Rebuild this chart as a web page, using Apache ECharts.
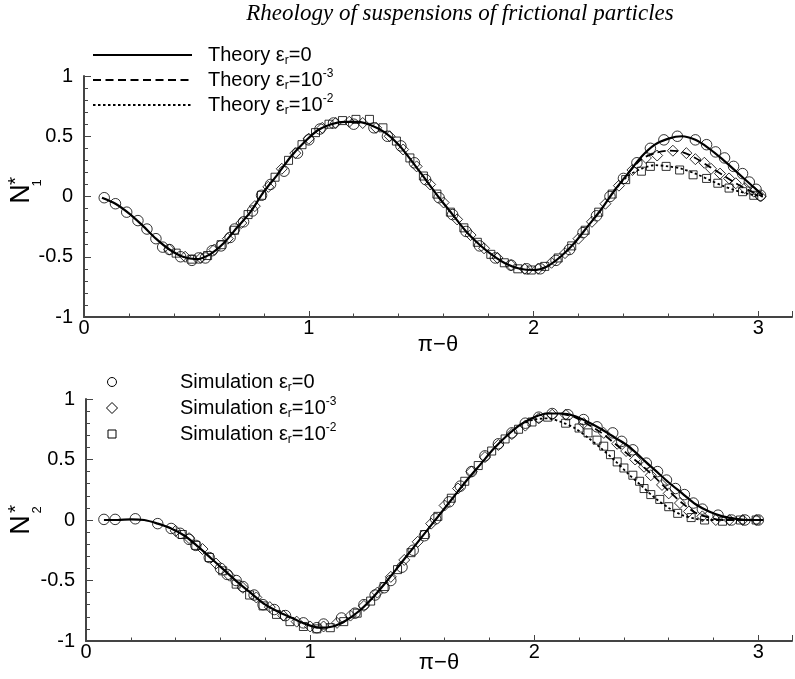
<!DOCTYPE html>
<html><head><meta charset="utf-8">
<script src="https://cdn.jsdelivr.net/npm/echarts@6/dist/echarts.min.js"></script>
<style>html,body{margin:0;padding:0;background:#fff}#c{width:795px;height:679px}</style>
</head><body><div id="c"></div>
<script>
// ---------- DATA ----------
const TITLE = 'Rheology of suspensions of frictional particles';
const X_TICKS = [0, 1, 2, 3];
const Y_TICKS = [-1, -0.5, 0, 0.5, 1];

// theory grid
const X_TH = [0.08,0.14,0.20,0.26,0.32,0.38,0.44,0.50,0.56,0.62,0.68,0.74,0.80,0.86,0.92,0.98,1.04,1.10,1.16,1.22,1.28,1.34,1.40,1.46,1.52,1.58,1.64,1.70,1.76,1.82,1.88,1.94,2.00,2.06,2.12,2.18,2.24,2.30,2.36,2.42,2.48,2.54,2.60,2.66,2.72,2.78,2.84,2.90,2.96,3.02];

// N1* theory
const N1_TH_E0 = [-0.01,-0.06,-0.14,-0.24,-0.35,-0.44,-0.50,-0.52,-0.48,-0.39,-0.26,-0.13,0.04,0.18,0.33,0.45,0.55,0.60,0.62,0.62,0.59,0.53,0.43,0.29,0.14,-0.01,-0.15,-0.29,-0.40,-0.49,-0.56,-0.60,-0.61,-0.58,-0.50,-0.39,-0.25,-0.11,0.05,0.19,0.33,0.43,0.48,0.50,0.47,0.40,0.31,0.21,0.11,0.01];
const X_N1_E3 = [2.42,2.48,2.54,2.60,2.66,2.72,2.78,2.84,2.90,2.96,3.02];
const N1_TH_E3 = [0.19,0.31,0.36,0.38,0.37,0.32,0.25,0.18,0.11,0.05,0.00];
const X_N1_E2 = [2.36,2.42,2.48,2.54,2.60,2.66,2.72,2.78,2.84,2.90,2.96,3.02];
const N1_TH_E2 = [0.05,0.17,0.23,0.26,0.25,0.23,0.19,0.14,0.09,0.05,0.02,0.00];

// N1* simulation
const X_N1_S0 = [0.09,0.14,0.19,0.24,0.28,0.32,0.35,0.38,0.43,0.48,0.51,0.54,0.57,0.61,0.65,0.67,0.71,0.75,0.79,0.83,0.89,0.95,1.00,1.05,1.11,1.20,1.29,1.35,1.41,1.47,1.52,1.58,1.64,1.70,1.76,1.83,1.90,1.97,2.03,2.10,2.16,2.22,2.28,2.34,2.40,2.46,2.52,2.58,2.64,2.72,2.77,2.81,2.85,2.89,2.93,2.96,2.99,3.01];
const N1_S0 = [-0.01,-0.06,-0.13,-0.20,-0.27,-0.35,-0.42,-0.44,-0.50,-0.53,-0.51,-0.51,-0.45,-0.41,-0.34,-0.27,-0.21,-0.12,0.01,0.10,0.21,0.36,0.47,0.56,0.61,0.60,0.57,0.50,0.42,0.28,0.14,-0.01,-0.15,-0.29,-0.41,-0.51,-0.57,-0.60,-0.60,-0.53,-0.44,-0.30,-0.16,0.00,0.15,0.28,0.40,0.47,0.50,0.47,0.43,0.37,0.32,0.25,0.19,0.12,0.06,0.01];
const X_N1_S3 = [0.38,0.45,0.52,0.58,0.64,0.70,0.76,0.82,0.88,0.94,1.00,1.06,1.12,1.18,1.24,1.30,1.36,1.42,1.48,1.54,1.60,1.66,1.72,1.78,1.84,1.90,1.96,2.02,2.08,2.14,2.20,2.26,2.32,2.38,2.44,2.50,2.55,2.62,2.68,2.72,2.76,2.79,2.83,2.87,2.90,2.94,2.98,3.01];
const N1_S3 = [-0.44,-0.50,-0.51,-0.44,-0.35,-0.22,-0.08,0.08,0.23,0.36,0.48,0.57,0.61,0.62,0.61,0.57,0.50,0.39,0.25,0.10,-0.05,-0.19,-0.32,-0.43,-0.51,-0.57,-0.60,-0.60,-0.55,-0.47,-0.35,-0.21,-0.06,0.09,0.22,0.32,0.34,0.38,0.36,0.31,0.28,0.23,0.19,0.15,0.11,0.07,0.04,0.00];
const X_N1_S2 = [0.41,0.48,0.55,0.61,0.67,0.73,0.79,0.85,0.91,0.97,1.03,1.09,1.15,1.21,1.27,1.33,1.39,1.45,1.51,1.57,1.63,1.69,1.75,1.81,1.87,1.93,1.99,2.05,2.11,2.17,2.23,2.29,2.35,2.41,2.48,2.52,2.59,2.65,2.71,2.77,2.82,2.87,2.93,2.98];
const N1_S2 = [-0.47,-0.52,-0.49,-0.40,-0.28,-0.15,0.01,0.16,0.30,0.43,0.53,0.60,0.63,0.64,0.64,0.57,0.46,0.32,0.17,0.02,-0.13,-0.26,-0.38,-0.48,-0.55,-0.60,-0.61,-0.58,-0.51,-0.41,-0.28,-0.13,0.02,0.14,0.21,0.25,0.25,0.22,0.18,0.15,0.11,0.07,0.04,0.01];

// N2* theory
const N2_TH_E0 = [0.00,0.00,0.005,0.00,-0.03,-0.07,-0.13,-0.22,-0.32,-0.42,-0.52,-0.61,-0.70,-0.76,-0.81,-0.86,-0.89,-0.88,-0.83,-0.75,-0.64,-0.51,-0.37,-0.23,-0.09,0.05,0.19,0.33,0.46,0.59,0.70,0.79,0.85,0.88,0.88,0.86,0.81,0.75,0.68,0.61,0.51,0.41,0.31,0.22,0.13,0.07,0.03,0.01,0.00,0.00];
const X_N2_E3 = [2.12,2.18,2.24,2.30,2.36,2.42,2.48,2.54,2.60,2.66,2.72,2.78,2.84,2.90,2.96,3.02];
const N2_TH_E3 = [0.88,0.85,0.79,0.72,0.63,0.54,0.45,0.35,0.24,0.14,0.06,0.02,0.00,0.00,0.00,0.00];
const X_N2_E2 = [1.94,2.00,2.06,2.12,2.18,2.24,2.30,2.36,2.42,2.48,2.54,2.60,2.66,2.72,2.78,2.84,2.90,2.96,3.02];
const N2_TH_E2 = [0.79,0.83,0.84,0.81,0.76,0.68,0.59,0.49,0.38,0.28,0.18,0.10,0.04,0.01,0.00,0.00,0.00,0.00,0.00];

// N2* simulation
const X_N2_S0 = [0.08,0.13,0.22,0.32,0.38,0.42,0.46,0.49,0.55,0.60,0.63,0.67,0.70,0.75,0.79,0.84,0.89,0.97,1.03,1.06,1.14,1.20,1.24,1.29,1.33,1.36,1.41,1.46,1.51,1.56,1.62,1.67,1.72,1.78,1.84,1.90,1.96,2.02,2.08,2.15,2.22,2.28,2.35,2.39,2.44,2.50,2.55,2.59,2.63,2.67,2.71,2.75,2.82,2.88,2.94,3.00];
const N2_S0 = [0.005,0.005,0.01,-0.03,-0.07,-0.11,-0.16,-0.21,-0.31,-0.40,-0.45,-0.50,-0.55,-0.62,-0.70,-0.74,-0.79,-0.85,-0.89,-0.86,-0.81,-0.77,-0.70,-0.62,-0.56,-0.50,-0.39,-0.25,-0.13,0.01,0.15,0.28,0.40,0.53,0.63,0.72,0.80,0.85,0.88,0.87,0.83,0.77,0.72,0.65,0.58,0.47,0.40,0.33,0.26,0.21,0.14,0.09,0.04,0.00,0.00,0.00];
const X_N2_S3 = [0.40,0.46,0.52,0.58,0.64,0.70,0.76,0.82,0.88,0.94,1.00,1.06,1.12,1.18,1.24,1.30,1.36,1.42,1.48,1.54,1.60,1.66,1.72,1.78,1.84,1.90,1.96,2.02,2.08,2.14,2.22,2.31,2.37,2.41,2.45,2.49,2.52,2.57,2.60,2.65,2.69,2.75,2.81,2.87,2.93,2.99];
const N2_S3 = [-0.09,-0.15,-0.24,-0.36,-0.46,-0.56,-0.64,-0.72,-0.79,-0.84,-0.88,-0.88,-0.85,-0.79,-0.71,-0.60,-0.47,-0.33,-0.18,-0.03,0.12,0.26,0.40,0.52,0.62,0.71,0.78,0.84,0.87,0.87,0.80,0.72,0.63,0.57,0.50,0.44,0.37,0.29,0.22,0.14,0.07,0.03,0.00,0.00,0.00,0.00];
const X_N2_S2 = [0.43,0.49,0.55,0.61,0.67,0.73,0.79,0.85,0.91,0.97,1.03,1.09,1.15,1.21,1.27,1.33,1.39,1.45,1.51,1.57,1.63,1.69,1.75,1.81,1.87,1.93,1.99,2.06,2.14,2.20,2.24,2.28,2.31,2.34,2.37,2.40,2.44,2.47,2.49,2.52,2.56,2.60,2.64,2.70,2.76,2.84,2.92,2.99];
const N2_S2 = [-0.12,-0.21,-0.31,-0.42,-0.53,-0.62,-0.71,-0.78,-0.84,-0.88,-0.90,-0.89,-0.84,-0.77,-0.67,-0.55,-0.41,-0.27,-0.12,0.03,0.18,0.32,0.45,0.57,0.67,0.75,0.81,0.85,0.80,0.76,0.72,0.66,0.61,0.54,0.48,0.43,0.37,0.32,0.26,0.21,0.17,0.11,0.055,0.02,0.00,-0.01,0.00,0.00];

// ---------- CHART ----------
const zip = (xs, ys) => xs.map((x, i) => [x, ys[i]]);
const FONT = 'Liberation Sans';
const AX = '#444';

function xAxis(gi, gap) {
  return {
    gridIndex: gi, type: 'value', min: 0, max: 3.15, interval: 1,
    axisLine: { show: true, onZero: false, lineStyle: { color: AX, width: 2 } },
    axisTick: { show: true, inside: true, length: 6, lineStyle: { color: AX, width: 1 } },
    minorTick: { show: true, splitNumber: 5, length: 3.5, lineStyle: { color: AX, width: 1 } },
    splitLine: { show: false },
    axisLabel: { margin: 1, fontSize: 20, fontFamily: FONT, color: '#000',
      formatter: v => X_TICKS.indexOf(v) >= 0 ? String(v) : '' },
    name: 'π−θ', nameLocation: 'middle', nameGap: gap, nameMoveOverlap: false,
    nameTextStyle: { fontSize: 22, fontFamily: FONT, color: '#000', verticalAlign: 'top' }
  };
}
function yAxis(gi) {
  return {
    gridIndex: gi, type: 'value', min: -1, max: 1, interval: 0.5,
    axisLine: { show: true, onZero: false, lineStyle: { color: AX, width: 2 } },
    axisTick: { show: true, inside: true, length: 7, lineStyle: { color: AX, width: 1 } },
    minorTick: { show: true, splitNumber: 5, length: 4, lineStyle: { color: AX, width: 1 } },
    splitLine: { show: false },
    axisLabel: { margin: 11, fontSize: 20, fontFamily: FONT, color: '#000',
      formatter: v => Y_TICKS.indexOf(v) >= 0 ? String(v) : '' }
  };
}
const lineS = (gi, name, data, type, width, dash) => ({
  type: 'line', name, xAxisIndex: gi, yAxisIndex: gi, data, showSymbol: false, symbol: 'none',
  smooth: 0.3, lineStyle: { color: '#000', width, type: dash || type }, silent: true, z: 2
});
const scat = (gi, name, data, symbol, size) => ({
  type: 'scatter', name, xAxisIndex: gi, yAxisIndex: gi, data, symbol, symbolSize: size,
  itemStyle: { color: 'rgba(0,0,0,0)', borderColor: '#000', borderWidth: 1 }, silent: true, z: 3
});

const RICH = {
  a: { fontSize: 20, fontFamily: FONT, color: '#000', lineHeight: 24 },
  s: { fontSize: 12, fontFamily: FONT, color: '#000', lineHeight: 12, verticalAlign: 'bottom' },
  p: { fontSize: 12, fontFamily: FONT, color: '#000', lineHeight: 12, verticalAlign: 'top' }
};
const legText = (x, y, txt) => ({ type: 'text', x, y, silent: true,
  style: { text: txt, rich: RICH, align: 'left', verticalAlign: 'middle' } });
const legLine = (y, dash, w) => ({ type: 'line', silent: true,
  shape: { x1: 93, y1: y, x2: 192, y2: y }, style: { stroke: '#000', lineWidth: w, lineDash: dash } });
const rotT = (x, y, txt, size) => ({ type: 'text', x, y, rotation: Math.PI / 2, silent: true,
  style: { text: txt, fontSize: size, fontFamily: FONT, fill: '#000', align: 'center', verticalAlign: 'middle' } });

const option = {
  animation: false,
  backgroundColor: '#fff',
  title: { text: TITLE, left: 455, top: -3, textAlign: 'center',
    textStyle: { fontFamily: 'Liberation Serif', fontStyle: 'italic', fontWeight: 'normal', fontSize: 23, color: '#000' } },
  grid: [
    { left: 84, top: 76, width: 715.7, height: 241 },
    { left: 86, top: 399, width: 718.8, height: 242 }
  ],
  xAxis: [xAxis(0, 17), xAxis(1, 11)],
  yAxis: [yAxis(0), yAxis(1)],
  series: [
    lineS(0, 'Theory εr=0', zip(X_TH, N1_TH_E0), 'solid', 2.2),
    lineS(0, 'Theory εr=10-3', zip(X_N1_E3, N1_TH_E3), 'dashed', 1.8, [8, 4.5]),
    lineS(0, 'Theory εr=10-2', zip(X_N1_E2, N1_TH_E2), 'dotted', 1.8, [2.5, 2.5]),
    scat(0, 'Simulation εr=0', zip(X_N1_S0, N1_S0), 'circle', 10.5),
    scat(0, 'Simulation εr=10-3', zip(X_N1_S3, N1_S3), 'diamond', 11),
    scat(0, 'Simulation εr=10-2', zip(X_N1_S2, N1_S2), 'rect', 8),
    lineS(1, 'Theory εr=0', zip(X_TH, N2_TH_E0), 'solid', 2.2),
    lineS(1, 'Theory εr=10-3', zip(X_N2_E3, N2_TH_E3), 'dashed', 1.8, [8, 4.5]),
    lineS(1, 'Theory εr=10-2', zip(X_N2_E2, N2_TH_E2), 'dotted', 1.8, [2.5, 2.5]),
    scat(1, 'Simulation εr=0', zip(X_N2_S0, N2_S0), 'circle', 10.5),
    scat(1, 'Simulation εr=10-3', zip(X_N2_S3, N2_S3), 'diamond', 11),
    scat(1, 'Simulation εr=10-2', zip(X_N2_S2, N2_S2), 'rect', 8)
  ],
  graphic: [
    legLine(55, null, 2.2), legLine(80, [8, 4.5], 1.8), legLine(105, [2.5, 2.5], 1.8),
    legText(208, 55, '{a|Theory ε}{s|r}{a|=0}'),
    legText(208, 80, '{a|Theory ε}{s|r}{a|=10}{p|-3}'),
    legText(208, 105, '{a|Theory ε}{s|r}{a|=10}{p|-2}'),
    { type: 'circle', silent: true, shape: { cx: 112, cy: 382, r: 4.5 }, style: { fill: 'none', stroke: '#000', lineWidth: 1 } },
    { type: 'polygon', silent: true, shape: { points: [[112, 402.5], [117.5, 408], [112, 413.5], [106.5, 408]] }, style: { fill: 'none', stroke: '#000', lineWidth: 1 } },
    { type: 'rect', silent: true, shape: { x: 108, y: 430, width: 8, height: 8 }, style: { fill: 'none', stroke: '#000', lineWidth: 1 } },
    legText(180, 382, '{a|Simulation ε}{s|r}{a|=0}'),
    legText(180, 408, '{a|Simulation ε}{s|r}{a|=10}{p|-3}'),
    legText(180, 434, '{a|Simulation ε}{s|r}{a|=10}{p|-2}'),
    rotT(22, 194, 'N', 27), rotT(16, 181, '*', 21), rotT(37, 183, '1', 13),
    rotT(22, 525, 'N', 27), rotT(16, 509, '*', 21), rotT(37, 510, '2', 13)
  ]
};
const chart = echarts.init(document.getElementById('c'), null, { renderer: 'canvas' });
chart.setOption(option);
</script>
</body></html>
